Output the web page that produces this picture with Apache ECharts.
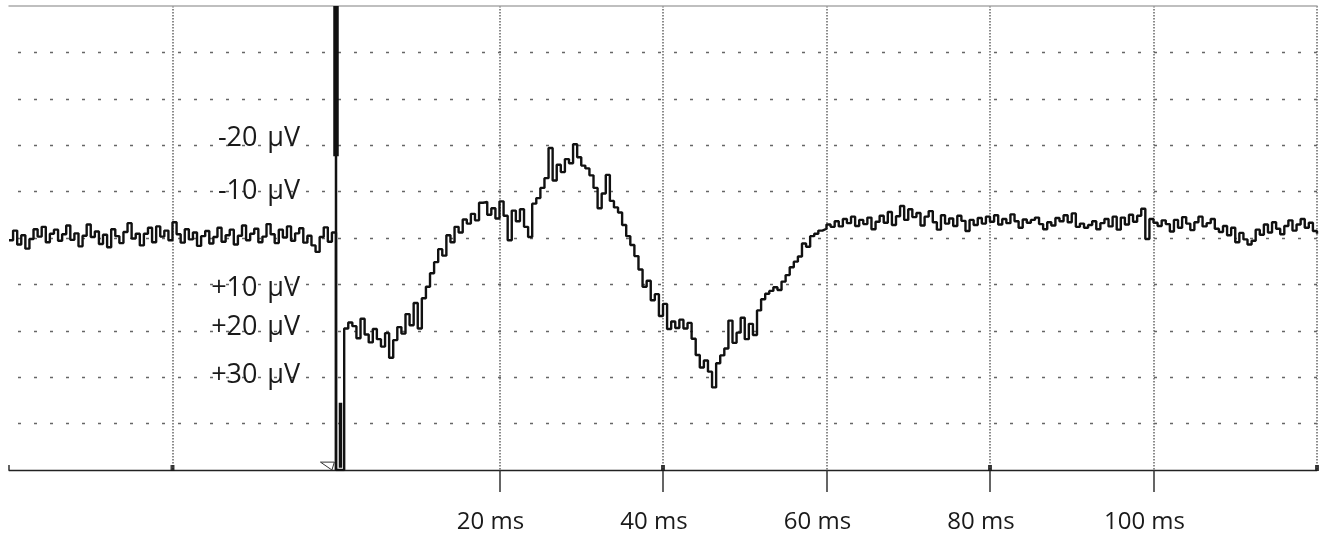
<!DOCTYPE html>
<html>
<head>
<meta charset="utf-8">
<script src="https://cdn.jsdelivr.net/npm/echarts@6/dist/echarts.min.js"></script>
<style>
html,body{margin:0;padding:0;background:#fff;}
#chart{width:1331px;height:536px;}
</style>
</head>
<body>
<div id="chart"></div>
<script>
// Sampling
var startMs = -40;
var stepMs = 0.5;

// Pre-stimulus baseline, -40 .. -0.5 ms (µV, negative = up)
var baselineUv = [
  0.5,-1.6,1.4,-0.6,2.3,0.2,-1.9,-0.3,-2.4,0.9,
  -0.9,-1.8,0.6,-0.8,-2.7,0.4,-1.0,1.8,-0.5,-2.9,
  -0.2,-1.4,1.3,-0.7,2.0,-1.9,-0.4,1.1,-1.3,-3.2,
  0.1,-0.9,1.6,-0.9,-2.2,0.9,-2.5,-0.3,-1.6,0.5,
  -3.4,-0.8,1.0,-1.9,0.3,-1.2,1.7,-0.4,-1.5,1.2,
  -0.2,-2.2,0.8,-0.6,-1.8,1.4,-0.5,-2.7,0.5,-0.9,
  -2.0,0.9,-0.3,-3.0,-0.8,1.1,-1.8,-0.1,-2.5,0.6,
  -1.0,-2.1,1.0,-0.5,1.6,3.0,-0.2,-2.3,0.8,-1.2
];
// Stimulus artefact, 0 and 0.5 ms (saturated)
var stimUv = [50, 50];
// Evoked response, 1.0 .. 60.5 ms
var responseUv = [
  19.5,18.2,19.0,21.6,17.4,20.8,22.5,19.6,21.8,23.4,20.5,25.8,22.0,19.2,20.6,16.4,18.8,
  14.0,19.5,13.0,10.5,7.6,5.2,2.4,3.8,-0.6,0.9,-2.4,-1.2,-4.0,-3.1,-5.2,-3.8,-7.6,
  -7.8,-5.0,-6.4,-4.2,-7.9,-4.8,0.5,-5.9,-3.6,-6.2,-2.4,-0.2,-7.4,-8.6,-10.8,-12.9,
  -19.4,-12.4,-15.8,-14.2,-17.0,-16.1,-20.2,-17.4,-15.6,-15.0,-13.5,-10.8,-6.4,-9.6,-13.6,-8.0,-6.6,-5.5,-2.8,-0.4,1.5,
  3.9,6.8,10.5,9.2,13.4,12.1,16.8,14.2,19.6,18.0,19.4,17.6,19.5,18.3,21.7,25.2,
  27.9,26.4,28.8,32.2,27.0,25.3,23.8,17.8,22.6,20.4,17.2,21.8,18.5,20.9,15.6,13.2,
  12.0,11.4,10.6,11.2,9.4,8.0,6.3,5.1,4.0,1.2,1.9,-0.4,-0.9,-1.6,-2.0,-2.9,-2.4
];
// Late baseline, 61.0 .. 120 ms
var lateUv = [
  -3.6,-2.5,-4.1,-3.2,-4.6,-2.6,-3.9,-3.0,-4.4,-1.9,
  -3.5,-4.8,-3.3,-5.6,-2.8,-4.7,-6.9,-3.9,-6.2,-4.5,
  -5.4,-2.7,-4.6,-5.8,-3.4,-1.8,-4.9,-3.1,-4.2,-2.6,
  -4.8,-3.7,-1.5,-3.9,-2.8,-4.3,-3.1,-4.6,-3.5,-4.9,
  -2.9,-4.1,-3.2,-5.1,-3.6,-2.2,-4.0,-3.3,-3.9,-4.4,
  -3.0,-1.9,-3.4,-2.7,-4.3,-3.6,-4.9,-3.4,-5.3,-2.4,
  -3.1,-2.2,-2.8,-3.6,-1.9,-3.2,-4.1,-2.5,-4.6,-1.8,
  -4.4,-2.9,-5.0,-3.5,-4.8,-6.3,0.2,-4.1,-3.3,-2.6,
  -3.8,-3.0,-1.4,-3.9,-2.2,-4.5,-3.1,-1.7,-3.4,-4.6,
  -2.5,-3.2,-4.1,-2.0,-1.3,-2.6,-0.6,-2.2,0.9,-1.1,
  0.3,1.4,0.6,-1.8,-0.7,-2.9,-1.2,-3.4,-2.0,-0.8,
  -2.6,-3.8,-1.6,-2.9,-4.1,-2.2,-3.3,-1.5,-0.9
];
// Artefact parts (time ms, µV)
var artefactLine = [[0, -50], [0, 50]];
var artefactTop = [[0, -50], [0, -17.6]];
var artefactBottom = [[0.55, 35.5], [0.55, 49.5]];
var triggerMark = [[-1.9, 48.3], [-0.2, 48.3], [-0.5, 50], [-1.9, 48.3]];
// Small marks sitting on the time axis (ms)
var axisMarkTimes = [-20, 40, 80, 120];
var axisHook = [[-40, 48.9], [-40, 50]];

// Axis ticks
var xTickValues = [20, 40, 60, 80, 100];
var yLabelValues = [-20, -10, 10, 20, 30];

var allUv = baselineUv.concat(stimUv, responseUv, lateUv);
var trace = allUv.map(function (v, i) { return [startMs + i * stepMs, v]; });
var axisMarks = axisMarkTimes.map(function (t) { return [t, 50]; });

// label vertical nudges (style)
var nudgeStyle = {'-20': 'u7', '-10': 'c', '10': 'd4', '20': 'u3', '30': 'u2'};

var FONT = 'Open Sans';
var base = {fontFamily: FONT, fontSize: 27, color: '#1a1a1a'};
function rs(pad) { return Object.assign({padding: pad}, base); }

var chart = echarts.init(document.getElementById('chart'), null, {renderer: 'canvas'});
chart.setOption({
  animation: false,
  backgroundColor: '#ffffff',
  grid: {left: 9, right: 14, top: 6, bottom: 66, containLabel: false},
  xAxis: [{
    type: 'value', min: -40, max: 120, interval: 20,
    axisLine: {show: true, onZero: false, lineStyle: {color: '#222', width: 1.4}},
    axisTick: {show: true, customValues: xTickValues, length: 22, lineStyle: {color: '#333', width: 1.5}},
    axisLabel: {show: true, customValues: xTickValues, formatter: '{value} ms', fontFamily: FONT, fontSize: 24, color: '#1a1a1a', margin: 40, padding: [0, 18, 0, 0]},
    splitLine: {show: false}
  }, {
    type: 'value', min: -40, max: 120, interval: 20, position: 'top',
    axisLine: {show: true, onZero: false, lineStyle: {color: '#aaa', width: 1.5}},
    axisTick: {show: false}, axisLabel: {show: false},
    splitLine: {show: true, showMinLine: false, showMaxLine: true, lineStyle: {type: [1.5, 1.5], color: '#666', width: 1.5}}
  }],
  yAxis: {
    type: 'value', min: -50, max: 50, interval: 10, inverse: true,
    position: 'left', offset: -295,
    axisLine: {show: false}, axisTick: {show: false},
    axisLabel: {
      show: true, margin: 4, fontFamily: FONT, fontSize: 27, color: '#1a1a1a',
      formatter: function (v) {
        if (yLabelValues.indexOf(v) < 0) return '';
        var txt = (v < 0 ? String(v) : '+' + v) + ' \u200A\u00B5V';
        return '{' + nudgeStyle[String(v)] + '|' + txt + '}';
      },
      rich: {
        u7: rs([0, 0, 14, 0]),
        c: rs([0, 0, 0, 0]),
        d4: rs([8, 0, 0, 0]),
        u3: rs([0, 0, 6, 0]),
        u2: rs([0, 0, 4, 0])
      }
    },
    splitLine: {show: true, showMinLine: false, showMaxLine: false, lineStyle: {type: [3, 13], dashOffset: -9, color: '#666', width: 1.3}}
  },
  series: [{
    type: 'line', data: trace, step: 'end', showSymbol: false, symbol: 'none',
    lineStyle: {color: '#111', width: 2.4}, clip: true, z: 5
  }, {
    type: 'line', data: artefactLine, showSymbol: false, symbol: 'none',
    lineStyle: {color: '#111', width: 2.5}, z: 6
  }, {
    type: 'line', data: artefactTop, showSymbol: false, symbol: 'none',
    lineStyle: {color: '#111', width: 5.5}, z: 6
  }, {
    type: 'line', data: artefactBottom, showSymbol: false, symbol: 'none',
    lineStyle: {color: '#111', width: 3.5}, z: 6
  }, {
    type: 'line', data: triggerMark, showSymbol: false, symbol: 'none',
    lineStyle: {color: '#333', width: 1}, z: 6
  }, {
    type: 'line', data: axisHook, showSymbol: false, symbol: 'none',
    lineStyle: {color: '#222', width: 1.4}, z: 6
  }, {
    type: 'scatter', data: axisMarks, symbol: 'rect', symbolSize: [4, 6], symbolOffset: [0, -2],
    itemStyle: {color: '#111'}, clip: false, z: 6, silent: true
  }]
});
</script>
</body>
</html>
